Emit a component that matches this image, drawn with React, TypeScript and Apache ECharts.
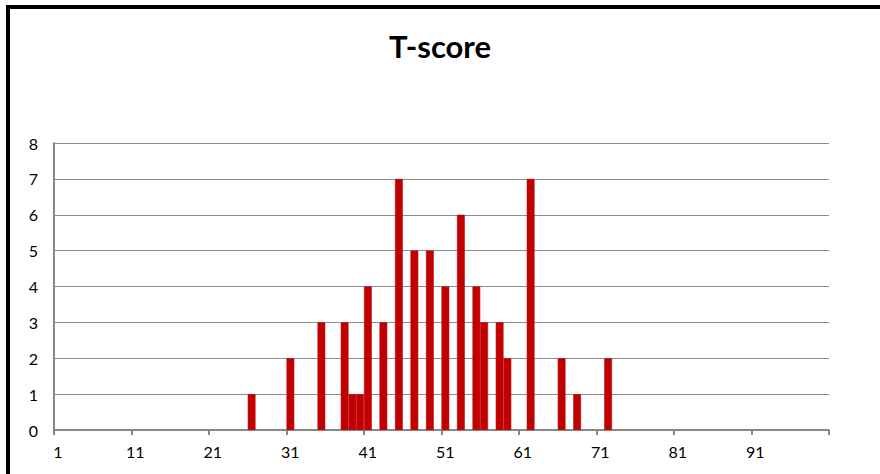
import React, { useEffect, useRef } from "react";
import * as echarts from "echarts";

// T-score values that occur, and how many times each occurs
const scoreValues = [26, 31, 35, 38, 39, 40, 41, 43, 45, 47, 49, 51, 53, 55, 56, 58, 59, 62, 66, 68, 72];
const scoreCounts = [1, 2, 3, 3, 1, 1, 4, 3, 7, 5, 5, 4, 6, 4, 3, 3, 2, 7, 2, 1, 2];
const firstScore = 1;
const lastScore = 100;
const yTicks = [0, 1, 2, 3, 4, 5, 6, 7, 8];
const chartTitle = "T-score";

export default function App() {
  const ref = useRef<HTMLDivElement>(null);
  useEffect(() => {
    if (!ref.current) return;
    const chart = echarts.init(ref.current, null, { renderer: "svg" });
    const categories: string[] = [];
    for (let s = firstScore; s <= lastScore; s++) categories.push(String(s));
    const data = categories.map((c) => {
      const i = scoreValues.indexOf(Number(c));
      return i >= 0 ? scoreCounts[i] : "-";
    });
    const font = "Lato, 'Open Sans', sans-serif";
    chart.setOption({
      animation: false,
      backgroundColor: "#ffffff",
      title: {
        text: chartTitle,
        left: "center",
        top: 25,
        textStyle: { fontFamily: font, fontSize: 31, fontWeight: "bold", color: "#000" },
      },
      graphic: [
        {
          type: "rect",
          shape: { x: 8, y: 7, width: 920, height: 520 },
          style: { fill: "none", stroke: "#000", lineWidth: 4 },
          silent: true,
        },
      ],
      grid: { left: 54, right: 51, top: 143, bottom: 44, containLabel: false },
      xAxis: {
        type: "category",
        data: categories,
        boundaryGap: true,
        axisLine: { show: true, lineStyle: { color: "#888", width: 2 } },
        axisTick: { show: true, interval: 9, alignWithLabel: false, length: 5, lineStyle: { color: "#888", width: 2 } },
        axisLabel: { interval: 9, margin: 13, fontFamily: font, fontSize: 16, color: "#000" },
        splitLine: { show: false },
      },
      yAxis: {
        type: "value",
        min: yTicks[0],
        max: yTicks[yTicks.length - 1],
        interval: 1,
        axisLine: { show: true, lineStyle: { color: "#888", width: 2 } },
        axisTick: { show: false },
        axisLabel: { margin: 16, fontFamily: font, fontSize: 16, color: "#000" },
        splitLine: { show: true, lineStyle: { color: "#8c8c8c", width: 1 } },
      },
      series: [
        {
          type: "bar",
          data,
          barCategoryGap: "0%",
          itemStyle: { color: "#C00000", borderColor: "#C00000", borderWidth: 0.6 },
        },
      ],
    });
    return () => chart.dispose();
  }, []);
  return <div ref={ref} style={{ position: "fixed", left: 0, top: 0, width: 880, height: 474 }} />;
}
